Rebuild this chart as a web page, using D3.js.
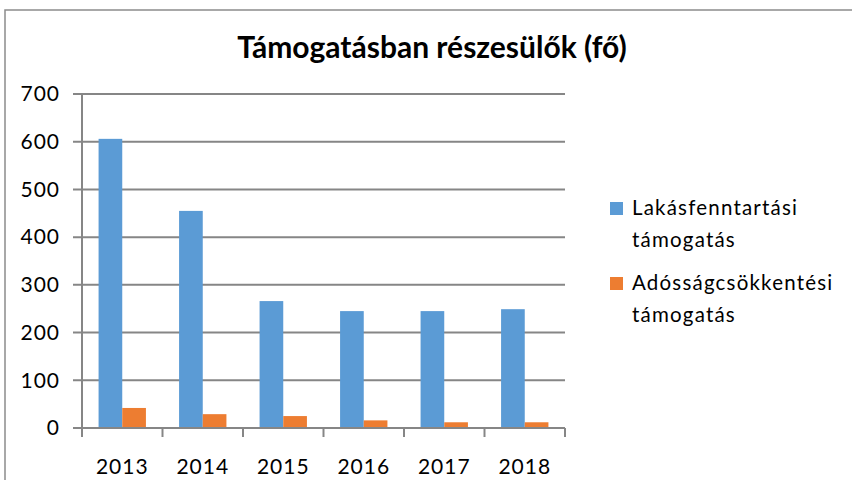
<!DOCTYPE html>
<html>
<head>
<meta charset="utf-8">
<script src="https://cdn.jsdelivr.net/npm/d3@7"></script>
<style>
  body { margin: 0; background: #fff; }
  text { font-family: Lato, "Noto Sans", sans-serif; fill: #000; }
</style>
</head>
<body>
<div id="chart"></div>
<script>
// data
var years = ["2013", "2014", "2015", "2016", "2017", "2018"];
var lakas = [606, 455, 266, 245, 245, 249];
var adossag = [42, 29, 25, 16, 12, 12];
var seriesNames = [["Lakásfenntartási", "támogatás"], ["Adósságcsökkentési", "támogatás"]];
var yTicks = [0, 100, 200, 300, 400, 500, 600, 700];

var colors = ["#5B9BD5", "#ED7D31"];

var W = 852, H = 480;
var margin = {top: 94, right: 287, bottom: 52, left: 82},
    width = W - margin.left - margin.right,
    height = H - margin.top - margin.bottom;

var svg = d3.select("#chart")
  .append("svg")
    .attr("width", W)
    .attr("height", H);

// outer chart border
svg.append("rect")
  .attr("x", 5).attr("y", 10)
  .attr("width", 860).attr("height", 500)
  .attr("fill", "none")
  .attr("stroke", "#8c8c8c")
  .attr("stroke-width", 1.5);

svg.append("text")
  .attr("x", 432).attr("y", 58)
  .attr("text-anchor", "middle")
  .attr("font-size", "30px")
  .attr("font-weight", "bold")
  .text("Támogatásban részesülők (fő)");

var g = svg.append("g")
  .attr("transform", "translate(" + margin.left + "," + margin.top + ")");

var x = d3.scaleBand()
  .domain(years)
  .range([0, width]);

var x1 = d3.scaleBand()
  .domain([0, 1])
  .range([0, x.bandwidth()])
  .paddingOuter(0.7);

var y = d3.scaleLinear()
  .domain([0, 700])
  .range([height, 0]);

// gridlines with left tick stubs
g.append("g")
  .selectAll("line")
  .data(yTicks)
  .enter()
  .append("line")
    .attr("x1", -9)
    .attr("x2", width)
    .attr("y1", function(d) { return y(d); })
    .attr("y2", function(d) { return y(d); })
    .attr("stroke", "#868686")
    .attr("stroke-width", 2);

// y labels
g.append("g")
  .selectAll("text")
  .data(yTicks)
  .enter()
  .append("text")
    .attr("x", -22)
    .attr("y", function(d) { return y(d); })
    .attr("dy", "0.35em")
    .attr("text-anchor", "end")
    .attr("font-size", "21px")
    .attr("letter-spacing", "1px")
    .text(function(d) { return d; });

// y axis line
g.append("line")
  .attr("x1", 0).attr("x2", 0)
  .attr("y1", 0).attr("y2", height + 9)
  .attr("stroke", "#868686")
  .attr("stroke-width", 2);

// x category ticks
g.append("g")
  .selectAll("line")
  .data(years.slice(0).concat(["end"]))
  .enter()
  .append("line")
    .attr("x1", function(d, i) { return i * x.step(); })
    .attr("x2", function(d, i) { return i * x.step(); })
    .attr("y1", height)
    .attr("y2", height + 9)
    .attr("stroke", "#868686")
    .attr("stroke-width", 2);

// bars
var series = [lakas, adossag];
series.forEach(function(vals, si) {
  g.append("g")
    .selectAll("rect")
    .data(vals)
    .enter()
    .append("rect")
      .attr("x", function(d, i) { return x(years[i]) + x1(si); })
      .attr("y", function(d) { return y(d); })
      .attr("width", x1.bandwidth())
      .attr("height", function(d) { return y(0) - y(d) - 1; })
      .attr("fill", colors[si]);
});

// year labels
g.append("g")
  .selectAll("text")
  .data(years)
  .enter()
  .append("text")
    .attr("x", function(d) { return x(d) + x.bandwidth() / 2; })
    .attr("y", height + 39)
    .attr("dy", "0.35em")
    .attr("text-anchor", "middle")
    .attr("font-size", "21px")
    .attr("letter-spacing", "1px")
    .text(function(d) { return d; });

// legend
var legend = svg.append("g");
seriesNames.forEach(function(lines, i) {
  var ly = 208 + i * 75;
  legend.append("rect")
    .attr("x", 610).attr("y", ly - 6)
    .attr("width", 13).attr("height", 13)
    .attr("fill", colors[i]);
  lines.forEach(function(t, j) {
    legend.append("text")
      .attr("x", 632)
      .attr("y", ly + j * 32)
      .attr("dy", "0.35em")
      .attr("font-size", "20.5px")
      .attr("letter-spacing", "1.2px")
      .text(t);
  });
});
</script>
</body>
</html>
